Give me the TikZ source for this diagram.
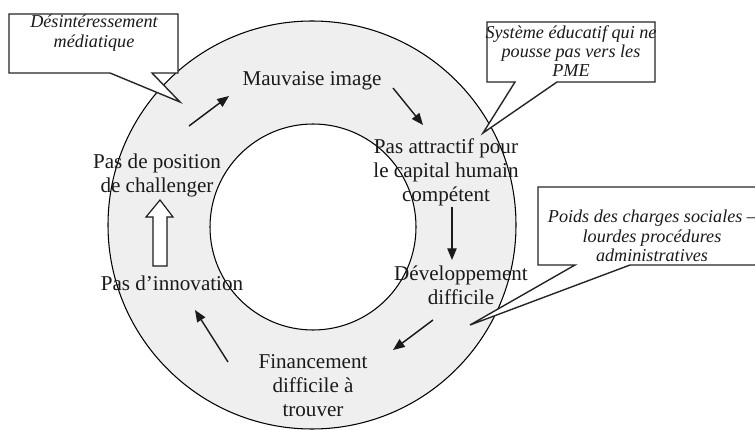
\documentclass[tikz,border=0pt]{standalone}
\usepackage{fontspec}
\setmainfont{Liberation Serif}
\usetikzlibrary{arrows.meta}
\definecolor{ring}{HTML}{EFEFEF}
\definecolor{ink}{HTML}{1A1A1A}
\begin{document}
\begin{tikzpicture}[x=0.03cm,y=-0.03cm,
  lbl/.style={align=center, text=ink, font=\fontsize{18}{20.5}\selectfont, inner sep=0pt},
  note/.style={align=center, text=ink, font=\fontsize{15.5}{16.5}\itshape\selectfont, inner sep=0pt},
  callout/.style={draw=black!85, line width=1.2pt, fill=white, line join=miter},
  flow/.style={-{Triangle[length=10pt,width=8pt]}, line width=1.2pt, draw=ink},
  hollow/.style={draw=ink, line width=1pt, fill=white}]
\useasboundingbox (0,0) rectangle (755,430);
\clip (0,0) rectangle (755,430);
\fill[white] (0,0) rectangle (755,430);
% ring
\fill[ring, draw=black, line width=0.9pt, even odd rule]
  (312,225) circle[radius=204] (313,227) circle[radius=103];
% callouts
\draw[callout] (9,14) -- (178,14) -- (178,73) -- (152,73) -- (180,102) -- (110,73) -- (9,73) -- cycle;
\node[note] (n1) at (94,33) {Désintéressement\\médiatique};
\draw[callout] (487,22) -- (655,22) -- (655,82) -- (557,82) -- (483,133) -- (515,82) -- (487,82) -- cycle;
\node[note] (n2) at (571,51) {Système éducatif qui ne\\pousse pas vers les\\PME};
\draw[callout] (538,187) -- (762,187) -- (762,265) -- (630,265) -- (470,325) -- (575,265) -- (538,265) -- cycle;
\node[note] (n3) at (652,236) {Poids des charges sociales –\\lourdes procédures\\administratives};
% labels
\node[lbl] (mi) at (312,81) {Mauvaise image};
\node[lbl] (pa) at (446,172) {Pas attractif pour\\le capital humain\\compétent};
\node[lbl] (dd) at (461,285) {Développement\\difficile};
\node[lbl] (fd) at (313,386) {Financement\\difficile à\\trouver};
\node[lbl] (pi) at (172,283) {Pas d’innovation};
\node[lbl] (pp) at (157,175) {Pas de position\\de challenger};
% arrow end points
\coordinate (a1s) at (189,126); \coordinate (a1e) at (229,96);
\coordinate (a2s) at (393,88);  \coordinate (a2e) at (423,125);
\coordinate (a3s) at (452,207); \coordinate (a3e) at (452,260);
\coordinate (a4s) at (433,320); \coordinate (a4e) at (393,350);
\coordinate (a5s) at (228,362); \coordinate (a5e) at (195,310);
\draw[flow] (a1s) -- (a1e);
\draw[flow] (a2s) -- (a2e);
\draw[flow] (a3s) -- (a3e);
\draw[flow] (a4s) -- (a4e);
\draw[flow] (a5s) -- (a5e);
% hollow block arrow
\draw[hollow] (153,266) -- (153,217) -- (146,217) -- (160,200) -- (173,217) -- (167,217) -- (167,266) -- cycle;
\end{tikzpicture}
\end{document}
